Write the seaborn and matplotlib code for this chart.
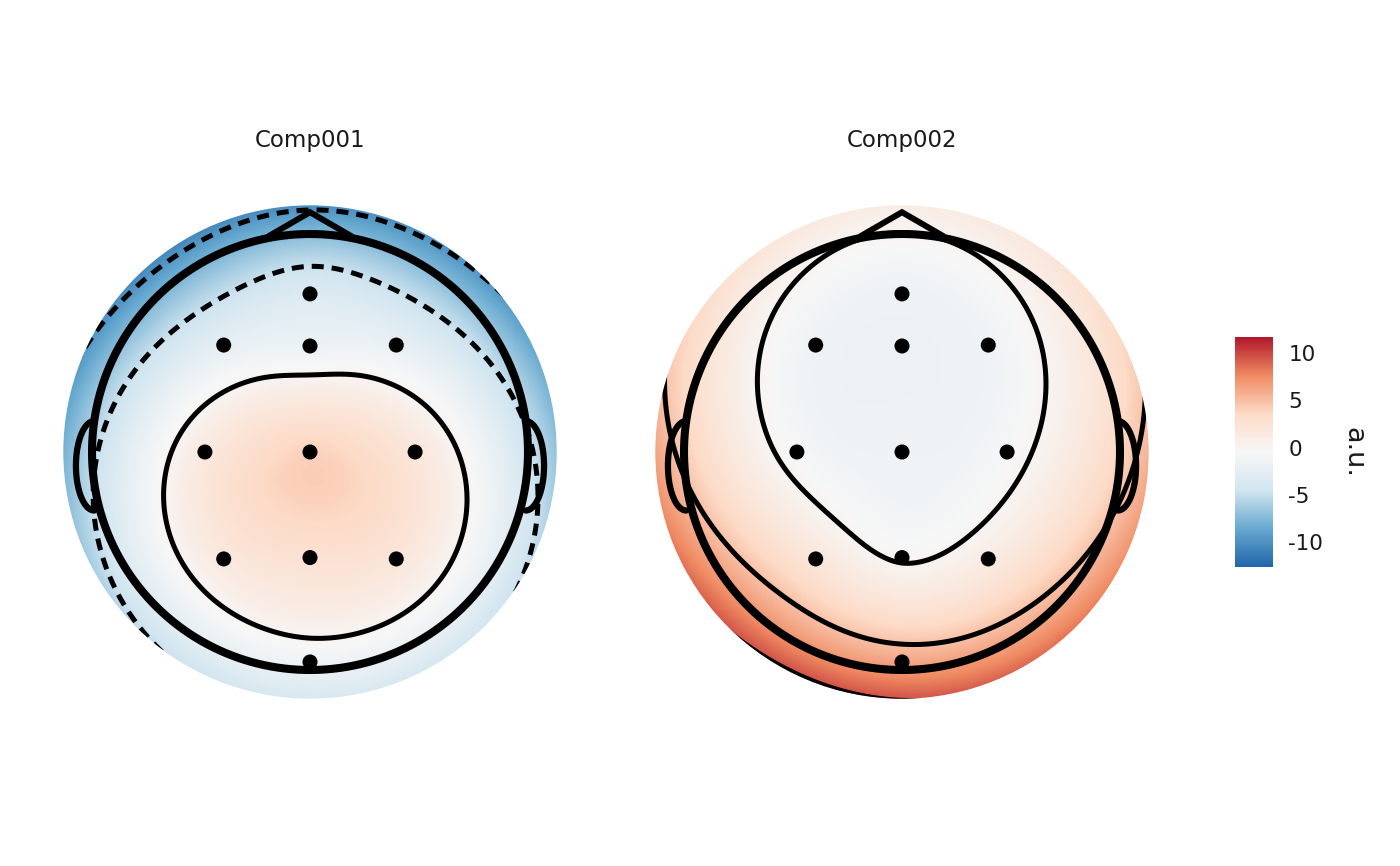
import numpy as np
import pandas as pd
import matplotlib
matplotlib.use("Agg")
import matplotlib.pyplot as plt
import seaborn as sns
from matplotlib.colors import LinearSegmentedColormap, Normalize
from matplotlib.cm import ScalarMappable
from matplotlib.patches import Circle

# electrode positions (polar projection, degrees) and component weights
channels = ["AFz", "F3", "Fz", "F4", "C3", "Cz", "C4", "P3", "Pz", "P4", "Oz"]
chan_x = [0, -37.6, 0, 37.6, -45.8, 0, 45.8, -37.6, 0, 37.6, 0]
chan_y = [68.9, 46.6, 46.2, 46.6, 0, 0, 0, -46.6, -46.0, -46.6, -91.5]
comp001 = [-3.2, -2.3, -1.6, -2.0, 1.5, 4.0, 1.8, 1.6, 2.6, 2.0, -1.2]
comp002 = [-1.45, -1.3, -1.6, -1.2, -0.6, -1.3, -0.6, 1.9, -0.2, 1.2, 6.2]
components = ["Comp001", "Comp002"]

colour_limits = (-12.6, 11.7)
contour_levels = [-9.6, -4.8, 0, 4.8, 9.6]
colour_ticks = [-10, -5, 0, 5, 10]
rdbu = ["#2166AC", "#67A9CF", "#D1E5F0", "#F7F7F7", "#FDDBC7", "#EF8A62", "#B2182B"]

head_r = 95
skirt_r = 107.5

sns.set_theme(style="white")
plt.rcParams["font.family"] = ["DejaVu Sans"]
plt.rcParams["axes.unicode_minus"] = False
plt.rcParams["lines.dashed_pattern"] = [2.4, 1.6]

cmap = LinearSegmentedColormap.from_list("rdbu", rdbu)


def biharmonic(x, y, v, gx, gy):
    xy = np.asarray(x) + 1j * np.asarray(y)
    d = np.abs(xy[:, None] - xy[None, :])
    np.fill_diagonal(d, 1)
    g = d ** 2 * (np.log(d) - 1)
    np.fill_diagonal(g, 0)
    w = np.linalg.solve(g, np.asarray(v, dtype=float))
    dd = np.abs((gx + 1j * gy)[..., None] - xy)
    with np.errstate(divide="ignore", invalid="ignore"):
        gg = dd ** 2 * (np.log(dd) - 1)
    gg[dd == 0] = 0
    return gg @ w


grid = np.linspace(-110, 110, 301)
gx, gy = np.meshgrid(grid, grid)

# head outline pieces
theta = np.linspace(0, 2 * np.pi, 400)
nose_x = np.array([-0.19, 0, 0.19]) * head_r
nose_y = np.array([0.99, 1.10, 0.99]) * head_r
t = np.linspace(-np.pi / 2, np.pi / 2, 60)
ear_x = head_r - 1 + 8 * np.cos(t)
ear_y = -6 + 19.5 * np.sin(t)

fig = plt.figure(figsize=(14, 8.66), dpi=100)
W, H = 1400, 866
half = 120 * 218 / head_r

centres = [310, 902]
for name, values, cx in zip(components, [comp001, comp002], centres):
    ax = fig.add_axes([(cx - half) / W, (H - 452 - half) / H, 2 * half / W, 2 * half / H])
    ax.set_xlim(-120, 120)
    ax.set_ylim(-120, 120)
    ax.set_aspect("equal")
    ax.axis("off")

    z = biharmonic(chan_x, chan_y, values, gx, gy)
    clip = Circle((0, 0), skirt_r, transform=ax.transData)
    im = ax.imshow(z, extent=(-110, 110, -110, 110), origin="lower", cmap=cmap,
                   vmin=colour_limits[0], vmax=colour_limits[1], interpolation="bilinear")
    im.set_clip_path(clip)
    cs = ax.contour(gx, gy, z, levels=contour_levels, colors="black", linewidths=3.6,
                    linestyles=["dashed" if lv < 0 else "solid" for lv in contour_levels])
    cs.set_clip_path(clip)

    ax.plot(head_r * np.cos(theta), head_r * np.sin(theta), color="black", lw=5.8)
    ax.plot(nose_x, nose_y, color="black", lw=4.3, solid_joinstyle="miter")
    ax.plot(-ear_x, ear_y, color="black", lw=4.5)
    ax.plot(ear_x, ear_y, color="black", lw=4.5)

    elec = pd.DataFrame({"x": chan_x, "y": chan_y, "channel": channels})
    sns.scatterplot(data=elec, x="x", y="y", color="black", s=117, edgecolor="none",
                    legend=False, ax=ax, zorder=5)
    ax.set_xlabel("")
    ax.set_ylabel("")

    fig.text(cx / W, 1 - 141 / H, name, ha="center", va="center", fontsize=16.5, color="#1A1A1A")

# colour bar
cax = fig.add_axes([1235 / W, (H - 567) / H, 38 / W, 230 / H])
cb = fig.colorbar(ScalarMappable(norm=Normalize(*colour_limits), cmap=cmap), cax=cax,
                  ticks=colour_ticks)
cb.outline.set_visible(False)
cax.tick_params(axis="y", direction="in", length=7.5, width=1.2, color="white",
                left=True, right=True, labelleft=False, labelright=True,
                labelsize=15.5, labelcolor="#1A1A1A", pad=11)
fig.text(1353 / W, 1 - 452 / H, "a.u.", rotation=270, ha="center", va="center",
         fontsize=19.5, color="#1A1A1A")

fig.savefig("out.png", dpi=100)
